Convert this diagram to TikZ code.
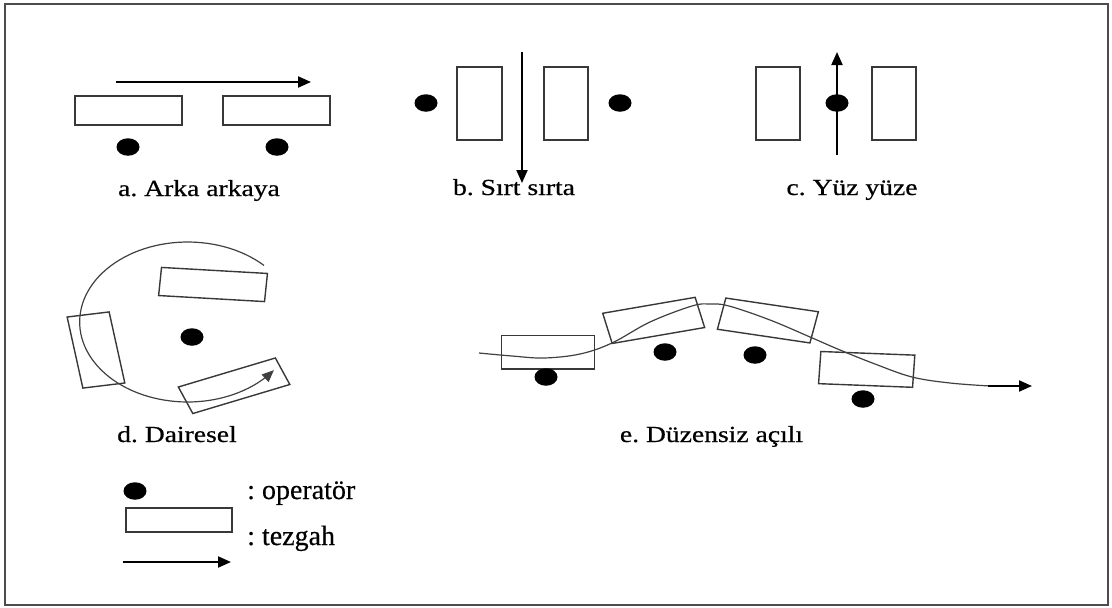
\documentclass[tikz,border=0pt]{standalone}
\usepackage{fontspec}
\setmainfont{Liberation Serif}
\newfontfamily\labfont[FakeStretch=1.2,FakeBold=0.6]{Liberation Serif}
\newfontfamily\legfont[FakeBold=0.4]{Liberation Serif}
\usetikzlibrary{arrows.meta,shapes.geometric}
\frenchspacing
\begin{document}
\begin{tikzpicture}[x=1pt,y=-1pt,
  box/.style={draw=black!78, line width=1.4pt, inner sep=0pt},
  dot/.style={ellipse, fill=black, inner sep=0pt, minimum width=23pt, minimum height=17.5pt},
  flow/.style={line width=2pt, -{Triangle[length=13pt,width=11pt]}},
  lab/.style={font=\frenchspacing\labfont\fontsize{23}{27}\selectfont, inner sep=0pt, anchor=base},
  leg/.style={font=\legfont\fontsize{28}{32}\selectfont, inner sep=0pt, anchor=base west},
  path/.style={draw=black!75, line width=1.2pt}]
\useasboundingbox (0,0) rectangle (1112,608);
\draw[black!70, line width=1.6pt] (5,4) rectangle (1108,605);

% ---- a. Arka arkaya
\node[box, minimum width=107pt, minimum height=29pt] (a1) at (128.5,110.5) {};
\node[box, minimum width=107pt, minimum height=29pt] (a2) at (276.5,110.5) {};
\coordinate (as) at (116,82);
\coordinate (ae) at (311,82);
\draw[flow] (as) -- (ae);
\node[dot] (ad1) at (128,147) {};
\node[dot] (ad2) at (277,147) {};
\node[lab] (la) at (199,196) {a. Arka arkaya};

% ---- b. Sirt sirta
\node[box, minimum width=45pt, minimum height=73pt] (b1) at (479.5,103.5) {};
\node[box, minimum width=44pt, minimum height=73pt] (b2) at (566,103.5) {};
\coordinate (bs) at (522,52);
\coordinate (be) at (522,183);
\draw[flow] (bs) -- (be);
\node[dot] (bd1) at (426,103) {};
\node[dot] (bd2) at (620,103) {};
\node[lab] (lb) at (514,195) {b. Sırt sırta};

% ---- c. Yuz yuze
\node[box, minimum width=44pt, minimum height=73pt] (c1) at (778,103.5) {};
\node[box, minimum width=44pt, minimum height=73pt] (c2) at (894,103.5) {};
\coordinate (cs) at (837,155);
\coordinate (ce) at (837,52);
\draw[flow] (cs) -- (ce);
\node[dot] (cd) at (837,103) {};
\node[lab] (lc) at (852,195) {c. Yüz yüze};

% ---- d. Dairesel
\begin{scope}[xscale=1.35]
  \node[box, transform shape, rotate=-4.4, minimum width=78.7pt, minimum height=28.2pt] (d1) at (157.8,284.5) {};
  \node[box, transform shape, rotate=9.3, minimum width=31.5pt, minimum height=72pt] (d2) at (71.1,350) {};
  \node[box, transform shape, rotate=22, minimum width=77.5pt, minimum height=28.6pt] (d3) at (173.4,385.75) {};
  \draw[path, -{Triangle[length=12pt,width=10pt]}] plot[domain=45:323, samples=90] ({139+80*cos(\x)},{322-80*sin(\x)});
\end{scope}
\node[dot] (dd) at (192,337) {};
\node[lab, anchor=base west] (ld) at (117,442) {d. Dairesel};

% ---- e. Duzensiz acili
\begin{scope}[xscale=1.35]
  \node[box, transform shape, minimum width=69pt, minimum height=33.3pt] (e1) at (406,352.2) {};
  \node[box, transform shape, rotate=13.1, minimum width=70.3pt, minimum height=31pt] (e2) at (484.2,320.4) {};
  \node[box, transform shape, rotate=-11.3, minimum width=69.9pt, minimum height=31.8pt] (e3) at (568.8,320.5) {};
  \node[box, transform shape, rotate=-3, minimum width=69.7pt, minimum height=32.2pt] (e4) at (642,369.4) {};
\end{scope}
\draw[path] plot[smooth, tension=0.6] coordinates {(479,353) (512,356) (544,358) (580,354) (612,343) (650,322) (692,306) (710,304) (729,306) (770,320) (810,337) (840,350) (875,364) (912,377) (950,383) (990,386)};
\coordinate (es) at (988,386);
\coordinate (ee) at (1032,386);
\draw[flow] (es) -- (ee);
\node[dot] (ed1) at (546,377) {};
\node[dot] (ed2) at (665,352) {};
\node[dot] (ed3) at (755,355) {};
\node[dot] (ed4) at (863,399) {};
\node[lab] (le) at (711.5,442) {e. Düzensiz açılı};

% ---- legend
\node[dot] (kd) at (135,491) {};
\node[box, minimum width=106pt, minimum height=24pt] (kr) at (179,520) {};
\coordinate (ks) at (123,562);
\coordinate (ke) at (231,562);
\draw[flow] (ks) -- (ke);
\node[leg] (k1) at (247,499) {: operatör};
\node[leg] (k2) at (247,545) {: tezgah};
\end{tikzpicture}
\end{document}
